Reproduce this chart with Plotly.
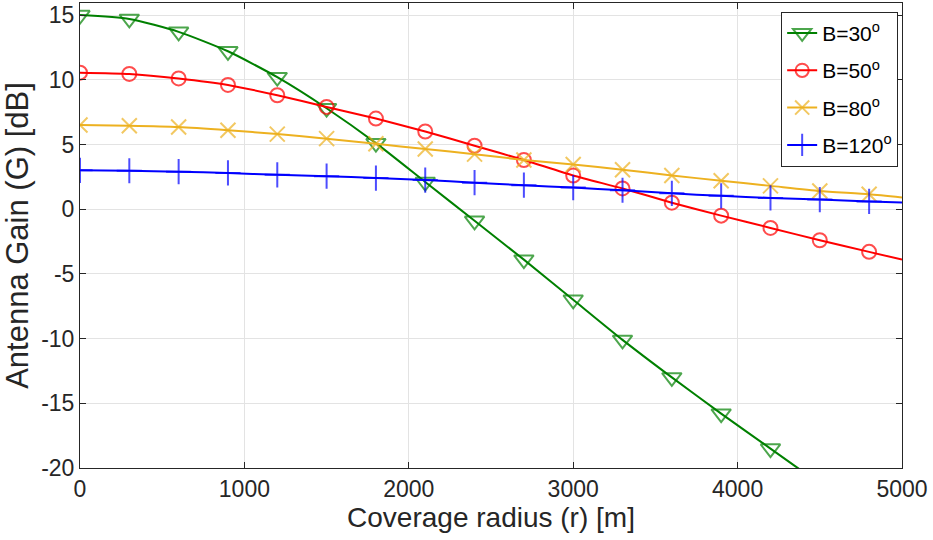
import plotly.graph_objects as go


# coverage radius [m]: markers every 300 m, last point only closes the line
radius = [0, 300, 600, 900, 1200, 1500, 1800, 2100, 2400, 2700, 3000,
          3300, 3600, 3900, 4200, 4500, 4800, 5000]

gain_b30 = [15.0, 14.7, 13.7, 12.2, 10.2, 7.8, 5.1, 2.1, -0.9, -3.9, -7.0,
            -10.1, -13.0, -15.8, -18.5, -21.2, -23.8, -25.5]
gain_b50 = [10.55, 10.45, 10.1, 9.6, 8.8, 7.9, 7.0, 6.0, 4.9, 3.8, 2.6,
            1.6, 0.5, -0.5, -1.45, -2.4, -3.3, -3.9]
gain_b80 = [6.5, 6.45, 6.35, 6.1, 5.8, 5.45, 5.05, 4.65, 4.25, 3.8, 3.45,
            3.05, 2.6, 2.2, 1.8, 1.4, 1.15, 0.9]
gain_b120 = [3.0, 2.97, 2.9, 2.8, 2.65, 2.55, 2.4, 2.25, 2.05, 1.85, 1.67,
             1.46, 1.22, 1.03, 0.87, 0.74, 0.6, 0.52]

names = ['B=30<sup>o</sup>', 'B=50<sup>o</sup>', 'B=80<sup>o</sup>',
         'B=120<sup>o</sup>']

x_ticks = [0, 1000, 2000, 3000, 4000, 5000]
y_ticks = [-20, -15, -10, -5, 0, 5, 10, 15]
y_tick_labels = ['-20', '-15', '-10', '-5', '0', '5', '10', '15']

FONT = 'Liberation Sans, Arial, sans-serif'
TEXT = '#262626'


def add_series(fig, y, name, color, symbol, size):
    """
    Adds one beamwidth curve. The final point (r = 5000) has no marker,
    it only carries the line to the edge of the axes.
    """
    sizes = [size] * (len(radius) - 1) + [0]
    fig.add_trace(go.Scatter(x=radius, y=y, name=name, legendgroup=name,
                             mode='lines+markers',
                             line=dict(color=color, width=2,
                                       shape='spline', smoothing=0.6),
                             marker=dict(symbol=symbol, size=sizes,
                                         color=color,
                                         line=dict(color=color, width=2))))


def main():
    fig = go.Figure()
    add_series(fig, gain_b30, names[0], '#008000', 'triangle-down-open', 17)
    add_series(fig, gain_b50, names[1], '#ff0000', 'circle-open', 14)
    add_series(fig, gain_b80, names[2], '#edb120', 'x-thin-open', 15)
    add_series(fig, gain_b120, names[3], '#0000ff', 'cross-thin-open', 18)

    axis_style = dict(showgrid=True, gridcolor='#e3e3e3', gridwidth=1,
                      showline=True, linecolor=TEXT, linewidth=1,
                      mirror='ticks', ticks='inside', ticklen=6,
                      tickcolor=TEXT, zeroline=False, automargin=False,
                      tickfont=dict(family=FONT, size=23, color=TEXT))

    fig.update_xaxes(range=[0, 5000], tickvals=x_ticks,
                     title=dict(text='Coverage radius (r) [m]', standoff=2,
                                font=dict(family=FONT, size=28,
                                          color=TEXT)),
                     **axis_style)
    fig.update_yaxes(range=[-20, 15.93], tickvals=y_ticks,
                     ticktext=y_tick_labels,
                     title=dict(text='Antenna Gain (G) [dB]', standoff=6,
                                font=dict(family=FONT, size=31,
                                          color=TEXT)),
                     **axis_style)

    fig.update_layout(width=933, height=540,
                      margin=dict(l=80, r=31, t=3, b=72),
                      plot_bgcolor='white', paper_bgcolor='white',
                      legend=dict(x=0.853, y=0.981, xanchor='left',
                                  yanchor='top', bgcolor='white',
                                  bordercolor=TEXT, borderwidth=1,
                                  tracegroupgap=7,
                                  font=dict(family=FONT, size=21,
                                            color='black'),
                                  itemwidth=30))
    # drop the page's default body margin so the figure sits at (0, 0)
    fig.write_html('out.html', config={'displayModeBar': False},
                   post_script="document.body.style.margin = '0';")


if __name__ == '__main__':
    main()
